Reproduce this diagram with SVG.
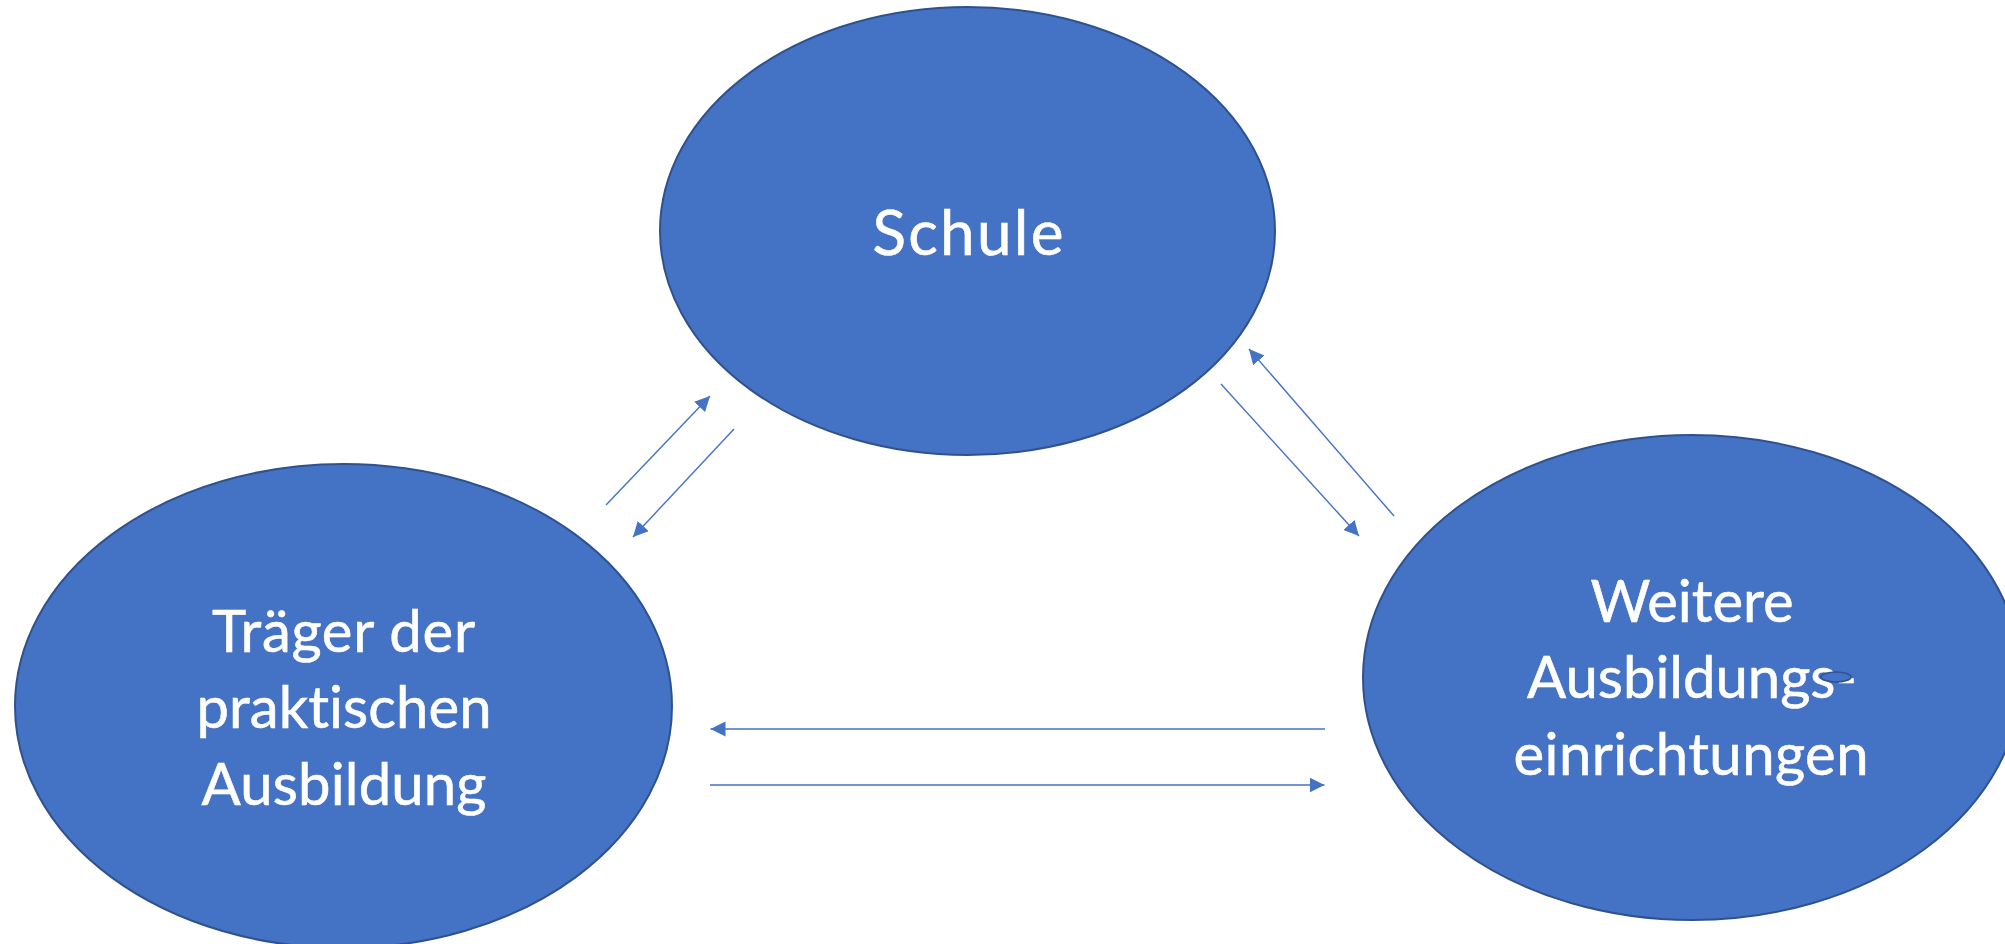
<svg xmlns="http://www.w3.org/2000/svg" width="2005" height="944" viewBox="0 0 2005 944">
  <style>
    .node { fill: #4472C4; stroke: #2F528F; stroke-width: 2; }
    .label { fill: #FFFFFF; stroke: #FFFFFF; stroke-width: 0.6; font-family: Lato, "Open Sans", "Liberation Sans", sans-serif; text-anchor: middle; font-variant-ligatures: none; font-feature-settings: "liga" 0, "clig" 0; }
    .link { stroke: #4472C4; stroke-width: 1.4; fill: none; marker-end: url(#arrowhead); }
  </style>
  <defs>
    <marker id="arrowhead" markerUnits="userSpaceOnUse" markerWidth="16" markerHeight="16" refX="15" refY="7.5" orient="auto">
      <path d="M0,0 L15,7.5 L0,15 z" fill="#4472C4"/>
    </marker>
  </defs>
  <rect x="0" y="0" width="2005" height="944" fill="#FFFFFF"/>

  <!-- school -->
  <g id="schule">
    <ellipse class="node" cx="967.5" cy="231" rx="307.5" ry="224"/>
    <text class="label" x="968" y="255" font-size="62" textLength="191" lengthAdjust="spacing">Schule</text>
  </g>

  <!-- practical training provider -->
  <g id="traeger">
    <ellipse class="node" cx="343.5" cy="706" rx="328.5" ry="242"/>
    <text class="label" x="343.5" y="651.7" font-size="58" textLength="263" lengthAdjust="spacing">Träger der</text>
    <text class="label" x="344" y="728.3" font-size="58" textLength="295" lengthAdjust="spacing">praktischen</text>
    <text class="label" x="344" y="805" font-size="58" textLength="285" lengthAdjust="spacing">Ausbildung</text>
  </g>

  <!-- further training facilities -->
  <g id="weitere">
    <ellipse class="node" cx="1692" cy="677.5" rx="329" ry="242.5"/>
    <text class="label" x="1692" y="621.7" font-size="58" textLength="203" lengthAdjust="spacing">Weitere</text>
    <text class="label" x="1692" y="698.3" font-size="58" textLength="330" lengthAdjust="spacing">Ausbildungs-</text>
    <text class="label" x="1691" y="775" font-size="58" textLength="355" lengthAdjust="spacing">einrichtungen</text>
    <ellipse cx="1836" cy="677" rx="15" ry="5" fill="#4472C4" stroke="#2F528F" stroke-width="1.6"/>
  </g>

  <!-- connectors -->
  <g id="connectors">
    <line class="link" x1="606" y1="505" x2="710" y2="396"/>
    <line class="link" x1="734" y1="429" x2="633" y2="537"/>
    <line class="link" x1="1394" y1="516" x2="1249" y2="349"/>
    <line class="link" x1="1221" y1="384" x2="1359" y2="536"/>
    <line class="link" x1="1325" y1="729" x2="710.5" y2="729"/>
    <line class="link" x1="710" y1="785" x2="1324.5" y2="785"/>
  </g>
</svg>
